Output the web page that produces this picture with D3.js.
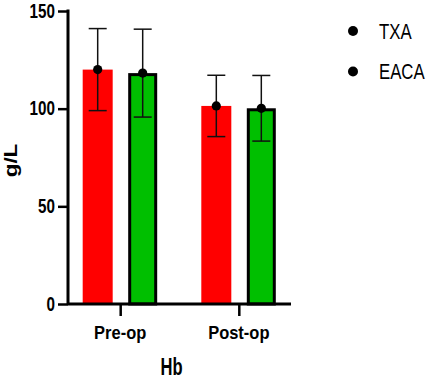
<!DOCTYPE html>
<html>
<head>
<meta charset="utf-8">
<script src="https://cdn.jsdelivr.net/npm/d3@7"></script>
<style>
  body { margin: 0; background: #fff; }
  svg { display: block; }
  text { font-family: 'Liberation Sans', Arial, sans-serif; fill: #000; }
</style>
</head>
<body>
<div id="chart"></div>
<script>
// Hb (g/L) by timepoint, mean +/- SD
const groups = ['Pre-op', 'Post-op'];
const series = ['TXA', 'EACA'];
const txaMean = [120, 101.4];
const eacaMean = [118.2, 100.2];
const txaSd = [21, 15.7];
const eacaSd = [22.5, 16.8];
const yTicks = [0, 50, 100, 150];

const colors = { TXA: '#ff0000', EACA: '#00bf00' };

const width = 430;
const height = 381;
const margin = { top: 11, right: 139, bottom: 77, left: 68 };
const innerWidth = width - margin.left - margin.right;
const innerHeight = height - margin.top - margin.bottom;

// the source image is squeezed sideways, so texts get narrowed too
const squeeze = (sel, k) => sel.each(function () {
  const w = this.getComputedTextLength();
  d3.select(this)
    .attr('textLength', w * k)
    .attr('lengthAdjust', 'spacingAndGlyphs');
});

const rows = [];
groups.forEach((g, i) => {
  rows.push({ group: g, key: 'TXA', mean: txaMean[i], sd: txaSd[i] });
  rows.push({ group: g, key: 'EACA', mean: eacaMean[i], sd: eacaSd[i] });
});

const svg = d3.select('#chart').append('svg')
  .attr('width', width)
  .attr('height', height);

const g = svg.append('g')
  .attr('transform', `translate(${margin.left}, ${margin.top})`);

const xScale = d3.scalePoint()
  .domain(groups)
  .range([0, innerWidth])
  .padding(0.44);

const subScale = d3.scaleBand()
  .domain(series)
  .range([-37.5, 37.5])
  .paddingInner(1 / 3);

const yScale = d3.scaleLinear()
  .domain([0, 150])
  .range([innerHeight, 0]);

const barX = d => xScale(d.group) + subScale(d.key);
const outlined = d => d.key === 'EACA';

// bars
g.selectAll('.bar').data(rows)
  .enter().append('rect')
    .attr('class', 'bar')
    .attr('x', d => outlined(d) ? barX(d) + 2 : barX(d))
    .attr('width', d => outlined(d) ? subScale.bandwidth() - 4 : subScale.bandwidth())
    .attr('y', d => yScale(d.mean) + (outlined(d) ? 1.5 : 0))
    .attr('height', d => yScale(0) - yScale(d.mean) - (outlined(d) ? 1.5 : 0))
    .attr('fill', d => colors[d.key])
    .attr('stroke', d => outlined(d) ? '#000' : 'none')
    .attr('stroke-width', 3);

// error bars
const cx = d => barX(d) + subScale.bandwidth() / 2;
const capW = 9;
const err = g.selectAll('.err').data(rows)
  .enter().append('g')
    .attr('class', 'err')
    .attr('stroke', '#111')
    .attr('stroke-width', 1.5);
err.append('line')
  .attr('x1', cx).attr('x2', cx)
  .attr('y1', d => yScale(d.mean + d.sd))
  .attr('y2', d => yScale(d.mean - d.sd));
err.append('line')
  .attr('x1', d => cx(d) - capW).attr('x2', d => cx(d) + capW)
  .attr('y1', d => yScale(d.mean + d.sd))
  .attr('y2', d => yScale(d.mean + d.sd));
err.append('line')
  .attr('x1', d => cx(d) - capW).attr('x2', d => cx(d) + capW)
  .attr('y1', d => yScale(d.mean - d.sd))
  .attr('y2', d => yScale(d.mean - d.sd));

g.selectAll('.dot').data(rows)
  .enter().append('circle')
    .attr('class', 'dot')
    .attr('cx', cx)
    .attr('cy', d => yScale(d.mean))
    .attr('r', 4.6)
    .attr('fill', '#000');

// axes (lines only, labels drawn on their own below)
const lineConfig = AxisG => {
  AxisG.selectAll('.domain')
    .attr('stroke', '#000')
    .attr('stroke-width', 3);
  AxisG.selectAll('line')
    .attr('stroke', '#000')
    .attr('stroke-width', 2.5);
  AxisG.selectAll('text').remove();
};

const yAxisG = g.append('g')
  .attr('class', 'y-axis')
  .call(d3.axisLeft(yScale).tickValues(yTicks).tickSize(10).tickSizeOuter(0))
  .call(lineConfig);
yAxisG.select('.domain').attr('d', `M0,${innerHeight}V-1.5`);

const xAxisG = g.append('g')
  .attr('class', 'x-axis')
  .attr('transform', `translate(0, ${innerHeight})`)
  .call(d3.axisBottom(xScale).tickSize(12).tickSizeOuter(0))
  .call(lineConfig);
xAxisG.select('.domain').attr('d', `M0,0H${innerWidth}`);

const labels = g.append('g').attr('class', 'tick-labels');

labels.selectAll('.y-label').data(yTicks)
  .enter().append('text')
    .attr('class', 'y-label')
    .attr('x', -13)
    .attr('y', d => yScale(d))
    .attr('dy', '0.35em')
    .attr('text-anchor', 'end')
    .attr('font-size', 19.5)
    .attr('font-weight', 'bold')
    .text(d => d)
    .call(squeeze, 0.78);

labels.selectAll('.x-label').data(groups)
  .enter().append('text')
    .attr('class', 'x-label')
    .attr('x', d => xScale(d))
    .attr('y', innerHeight + 34.5)
    .attr('text-anchor', 'middle')
    .attr('font-size', 18.5)
    .attr('font-weight', 'bold')
    .text(d => d)
    .call(squeeze, 0.89);

// axis titles
g.append('text')
  .attr('text-anchor', 'middle')
  .attr('font-size', 23)
  .attr('font-weight', 'bold')
  .attr('x', innerWidth / 2 - 8)
  .attr('y', innerHeight + 71)
  .text('Hb')
  .call(squeeze, 0.72);

g.append('text')
  .attr('text-anchor', 'middle')
  .attr('font-size', 22.5)
  .attr('font-weight', 'bold')
  .attr('transform', `translate(-51, ${innerHeight / 2 + 3}) rotate(-90) scale(1, 0.8)`)
  .text('g/L');

// legend
const legend = svg.append('g')
  .attr('transform', 'translate(353, 31)');
const legendItem = legend.selectAll('.legend-item').data(series)
  .enter().append('g')
    .attr('class', 'legend-item')
    .attr('transform', (d, i) => `translate(0, ${i * 40.5})`);
legendItem.append('circle')
  .attr('r', 5)
  .attr('fill', '#000');
legendItem.append('text')
  .attr('x', 26)
  .attr('dy', '0.35em')
  .attr('font-size', 21.5)
  .text(d => d)
  .call(squeeze, 0.78);
</script>
</body>
</html>
